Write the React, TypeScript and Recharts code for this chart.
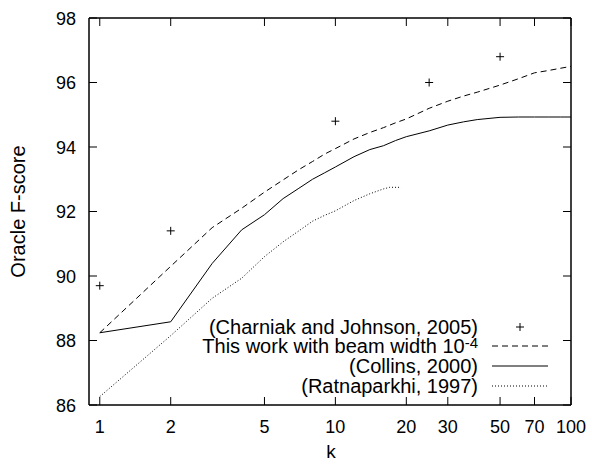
import React from 'react'
import { ComposedChart, Line, Scatter, XAxis, YAxis, Legend } from 'recharts'

// k values and oracle F-scores
const kCharniak = [1, 2, 10, 25, 50]
const fCharniak = [89.7, 91.4, 94.8, 96.0, 96.8]

const kBeam = [1, 2, 3, 4, 5, 6, 7, 8, 9, 10, 12, 14, 16, 18, 20, 25, 30, 35, 40, 50, 60, 70, 80, 90, 100]
const fBeam = [88.24, 90.3, 91.5, 92.1, 92.6, 92.98, 93.3, 93.55, 93.78, 93.95, 94.25, 94.45, 94.6, 94.75, 94.87, 95.2, 95.42, 95.58, 95.7, 95.92, 96.12, 96.3, 96.37, 96.44, 96.5]

const kCollins = [1, 2, 3, 4, 5, 6, 7, 8, 9, 10, 12, 14, 16, 18, 20, 25, 30, 35, 40, 50, 60, 70, 80, 90, 100]
const fCollins = [88.24, 88.58, 90.39, 91.43, 91.9, 92.4, 92.72, 93.0, 93.2, 93.38, 93.7, 93.92, 94.04, 94.2, 94.32, 94.5, 94.68, 94.78, 94.85, 94.92, 94.93, 94.93, 94.93, 94.93, 94.93]

const kRatna = [1, 2, 3, 4, 5, 6, 7, 8, 9, 10, 12, 14, 16, 17, 19]
const fRatna = [86.26, 88.15, 89.31, 89.93, 90.6, 91.06, 91.4, 91.7, 91.88, 92.02, 92.34, 92.55, 92.7, 92.75, 92.75]

const xTicks = [1, 2, 5, 10, 20, 30, 50, 70, 100]
const yTicks = [86, 88, 90, 92, 94, 96, 98]

const legendNames = [
  '(Charniak and Johnson, 2005)',
  'This work with beam width 10',
  '(Collins, 2000)',
  '(Ratnaparkhi, 1997)',
]

const zip = (ks: number[], fs: number[]) => ks.map((k, i) => ({ k, f: fs[i] }))

const charniak = zip(kCharniak, fCharniak)
const beam = zip(kBeam, fBeam)
const collins = zip(kCollins, fCollins)
const ratna = zip(kRatna, fRatna)

const FONT = '"Liberation Sans", Arial, Helvetica, sans-serif'
const TICK = 8

const BottomTick = (p: any) => (
  <g>
    <line x1={p.x} x2={p.x} y1={p.y} y2={p.y - TICK} stroke="#000" />
    <text x={p.x} y={p.y + 28} textAnchor="middle" fontSize={18} fontFamily={FONT} fill="#000">
      {p.payload.value}
    </text>
  </g>
)
const TopTick = (p: any) => (
  <line x1={p.x} x2={p.x} y1={p.y} y2={p.y + TICK} stroke="#000" />
)
const LeftTick = (p: any) => (
  <g>
    <line x1={p.x} x2={p.x + TICK} y1={p.y} y2={p.y} stroke="#000" />
    <text x={p.x - 13} y={p.y + 6.5} textAnchor="end" fontSize={18} fontFamily={FONT} fill="#000">
      {p.payload.value}
    </text>
  </g>
)
const RightTick = (p: any) => (
  <line x1={p.x} x2={p.x - TICK} y1={p.y} y2={p.y} stroke="#000" />
)

const Plus = (p: any) => (
  <path d={`M${p.cx - 4},${p.cy}h8M${p.cx},${p.cy - 4}v8`} stroke="#000" strokeWidth={1} fill="none" />
)

function LegendBox() {
  const rows = [14, 33, 53, 73]
  const tx = 280
  return (
    <svg width={380} height={90} style={{ overflow: 'visible' }}>
      <g fontFamily={FONT} fontSize={20} fill="#000">
        <text x={tx} y={rows[0] + 7} textAnchor="end">{legendNames[0]}</text>
        <text x={tx} y={rows[1] + 7} textAnchor="end">
          {legendNames[1]}
          <tspan dy={-5} fontSize={15}>-4</tspan>
        </text>
        <text x={tx} y={rows[2] + 7} textAnchor="end">{legendNames[2]}</text>
        <text x={tx} y={rows[3] + 7} textAnchor="end">{legendNames[3]}</text>
      </g>
      <path d={`M318,${rows[0]}h8M322,${rows[0] - 4}v8`} stroke="#000" />
      <line x1={294} x2={350} y1={rows[1]} y2={rows[1]} stroke="#000" strokeDasharray="6 4" />
      <line x1={294} x2={350} y1={rows[2]} y2={rows[2]} stroke="#000" />
      <line x1={294} x2={350} y1={rows[3]} y2={rows[3]} stroke="#000" strokeDasharray="1 2" />
    </svg>
  )
}

export default function App() {
  const axisLine = { stroke: '#000', strokeWidth: 1.5 }
  const xProps = {
    type: 'number' as const,
    dataKey: 'k',
    scale: 'log' as const,
    domain: [0.9, 100],
    allowDataOverflow: true,
    ticks: xTicks,
    interval: 0,
    tickSize: 0,
    tickMargin: 0,
    tickLine: false,
    axisLine,
  }
  const yProps = {
    type: 'number' as const,
    domain: [86, 98],
    allowDataOverflow: true,
    ticks: yTicks,
    interval: 0,
    tickSize: 0,
    tickMargin: 0,
    tickLine: false,
    axisLine,
  }
  return (
    <div style={{ position: 'fixed', left: 0, top: 0, width: 592, height: 464, background: '#fff', fontFamily: FONT }}>
      <ComposedChart width={592} height={464} margin={{ top: 0, right: 0, bottom: 0, left: 0 }}>
        <XAxis {...xProps} xAxisId="bottom" orientation="bottom" height={59} tick={BottomTick}
          label={{
            content: () => (
              <text x={331} y={458} textAnchor="middle" fontSize={19} fontFamily={FONT} fill="#000">k</text>
            ),
          }} />
        <XAxis {...xProps} xAxisId="top" orientation="top" height={18} tick={TopTick} />
        <YAxis {...yProps} yAxisId="left" orientation="left" width={89} tick={LeftTick}
          label={{
            content: () => (
              <text x={25} y={211.5} transform="rotate(-90 25 211.5)" textAnchor="middle" fontSize={20} fontFamily={FONT} fill="#000">
                Oracle F-score
              </text>
            ),
          }} />
        <YAxis {...yProps} yAxisId="right" orientation="right" width={21} tick={RightTick} />
        <Line xAxisId="bottom" yAxisId="left" data={ratna} dataKey="f" type="linear" stroke="#000" strokeWidth={1}
          strokeDasharray="1 2" dot={false} isAnimationActive={false} />
        <Line xAxisId="bottom" yAxisId="left" data={collins} dataKey="f" type="linear" stroke="#000" strokeWidth={1}
          dot={false} isAnimationActive={false} />
        <Line xAxisId="bottom" yAxisId="left" data={beam} dataKey="f" type="linear" stroke="#000" strokeWidth={1}
          strokeDasharray="6 4" dot={false} isAnimationActive={false} />
        <Scatter xAxisId="bottom" yAxisId="left" data={charniak} dataKey="f" shape={Plus} isAnimationActive={false} />
        <Legend layout="horizontal" verticalAlign="middle" align="center" content={LegendBox}
          wrapperStyle={{ position: 'absolute', left: 198, top: 313, width: 380, height: 90 }} />
      </ComposedChart>
    </div>
  )
}
